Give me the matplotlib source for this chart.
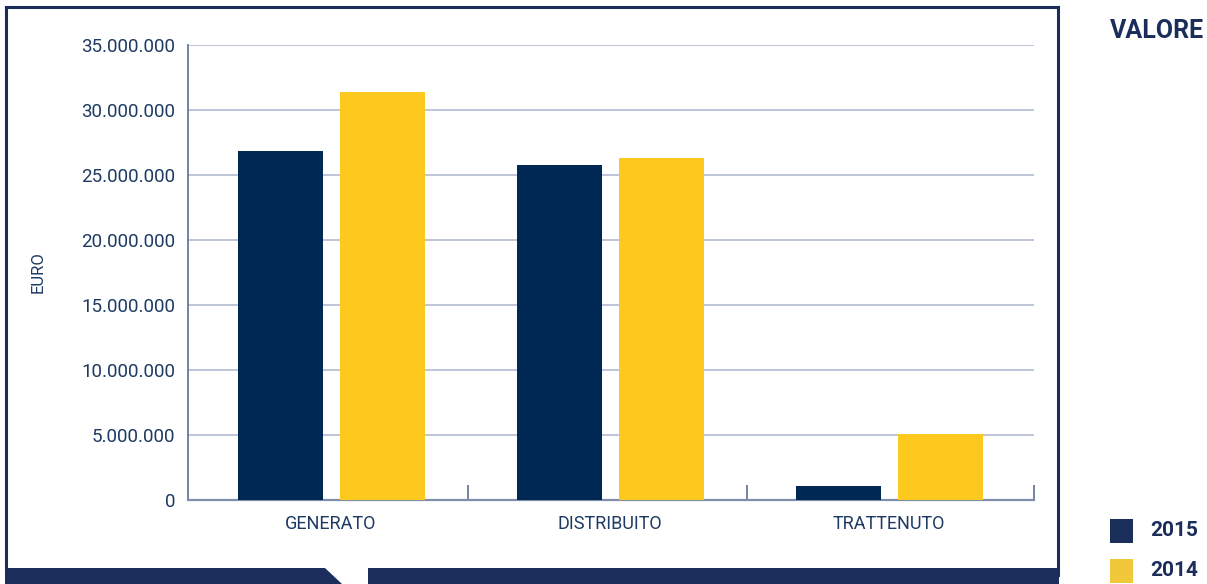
import matplotlib

matplotlib.use("Agg")
import matplotlib.pyplot as plt
import numpy as np
from matplotlib.lines import Line2D
from matplotlib.patches import Polygon, Rectangle
from matplotlib.ticker import FuncFormatter

categories = ["GENERATO", "DISTRIBUITO", "TRATTENUTO"]
years = ["2015", "2014"]
values_2015 = [26850000, 25770000, 1080000]
values_2014 = [31400000, 26300000, 5080000]
y_ticks = [0, 5000000, 10000000, 15000000, 20000000, 25000000, 30000000, 35000000]

NAVY = "#002855"
YELLOW = "#fec91f"
FRAME = "#1b2d5a"
TEXT = "#1d3a63"
GRID = "#b9c0d3"
FONT = ["Roboto", "DejaVu Sans"]

W, H = 1207, 584


def fx(px):
    return px / W


def fy(py):
    return 1 - py / H


def dotted(value, _pos):
    return f"{int(value):,}".replace(",", ".")


fig = plt.figure(figsize=(W / 100, H / 100), dpi=100)
ax = fig.add_axes([fx(188), fy(500), fx(1034) - fx(188), fy(45) - fy(500)])

x = np.arange(len(categories))
bar_width = 0.305
ax.bar(x - 0.181, values_2015, width=bar_width, color=NAVY, zorder=3)
ax.bar(x + 0.185, values_2014, width=bar_width, color=YELLOW, zorder=3)

ax.set_xlim(-0.513, 2.522)
ax.set_ylim(0, 35000000)
ax.set_yticks(y_ticks)
ax.yaxis.set_major_formatter(FuncFormatter(dotted))
ax.set_xticks(x)
ax.set_xticklabels(categories)
ax.set_xticks([0.491, 1.492, 2.522], minor=True)
ax.tick_params(axis="x", which="major", length=0, pad=11, labelsize=13, labelcolor=TEXT)
ax.tick_params(axis="x", which="minor", direction="in", length=11, width=1.2, color="#5a6f90")
ax.tick_params(axis="y", length=0, pad=9, labelsize=13.5, labelcolor=TEXT)
for lbl in ax.get_xticklabels() + ax.get_yticklabels():
    lbl.set_family(FONT)

ax.grid(axis="y", color=GRID, linewidth=1.3, zorder=0)
for side in ["top", "right"]:
    ax.spines[side].set_visible(False)
ax.spines["left"].set_color("#5a6f90")
ax.spines["left"].set_linewidth(1.2)
ax.spines["bottom"].set_color("#7f8fab")
ax.spines["bottom"].set_linewidth(1.6)

fig.text(fx(38), fy(272), "EURO", rotation=90, ha="center", va="center",
         fontsize=12, color=TEXT, family=FONT)

# frame around the chart with the speech-bubble band at the bottom
frame_lw = 2.2
fig.add_artist(Line2D([fx(6), fx(6)], [fy(568), fy(7)], color=FRAME, lw=frame_lw, transform=fig.transFigure))
fig.add_artist(Line2D([fx(6), fx(1058)], [fy(7), fy(7)], color=FRAME, lw=frame_lw, transform=fig.transFigure))
fig.add_artist(Line2D([fx(1058), fx(1058)], [fy(7), fy(575)], color=FRAME, lw=frame_lw, transform=fig.transFigure))
fig.add_artist(Polygon([(fx(5), fy(568)), (fx(325), fy(568)), (fx(342), fy(584)), (fx(5), fy(584))],
                       closed=True, facecolor=FRAME, edgecolor="none", transform=fig.transFigure))
fig.add_artist(Rectangle((fx(368), fy(584)), fx(1059) - fx(368), fy(568) - fy(584),
                         facecolor=FRAME, edgecolor="none", transform=fig.transFigure))

fig.text(fx(1110), fy(31), "VALORE", ha="left", va="center",
         fontsize=18, fontweight="bold", color=FRAME, family=FONT)

legend_colors = ["#1a2e5a", "#f2c83b"]
for i, (year, color) in enumerate(zip(years, legend_colors)):
    top = 519 + i * 40
    fig.add_artist(Rectangle((fx(1110), fy(top + 24)), fx(23), 24 / H,
                             facecolor=color, edgecolor="none", transform=fig.transFigure))
    fig.text(fx(1150), fy(top + 12), year, ha="left", va="center", fontsize=15,
             fontweight="bold", color=FRAME, family=FONT)

fig.savefig("out.png", dpi=100)
